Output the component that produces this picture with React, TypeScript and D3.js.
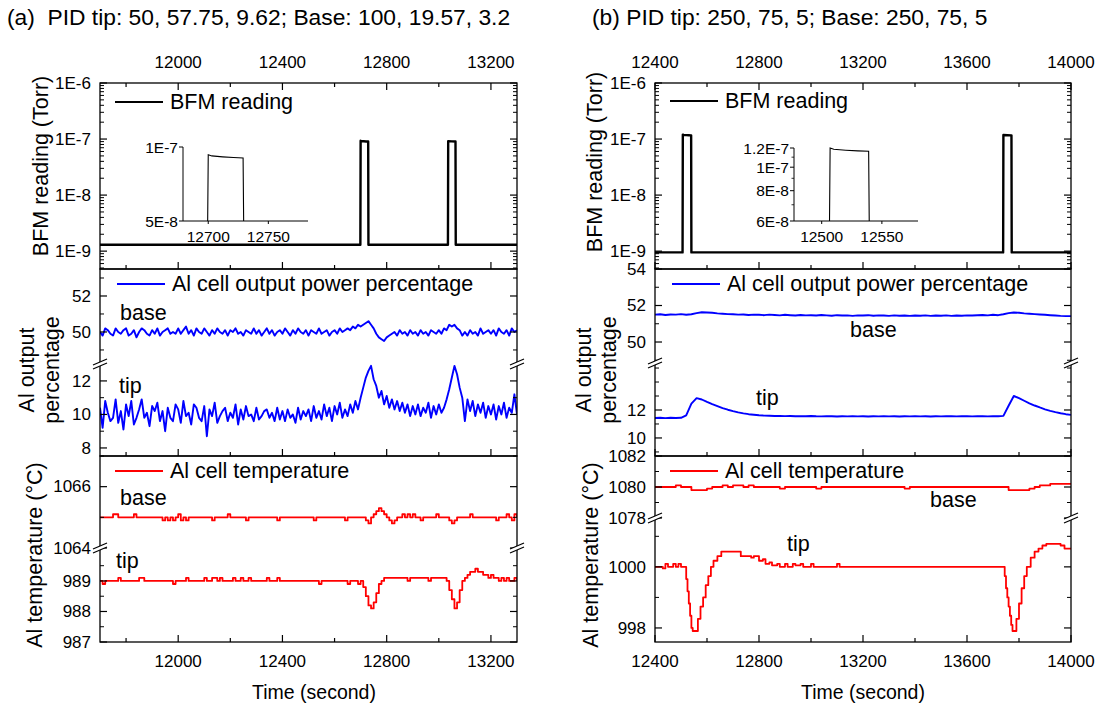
import React from "react";
import * as d3 from "d3";

const FONT = "'Liberation Sans', Arial, Helvetica, sans-serif";
const BLUE = "#0000ff";
const RED = "#ff0000";
const BLACK = "#000";

// ---------- sample times ----------
const timeA = d3.range(11700, 13300 + 1, 10);
const timeB = d3.range(12400, 14000 + 1, 20);

// ---------- (a) PID tip: 50, 57.75, 9.62; Base: 100, 19.57, 3.2 ----------
const bfmA: [number, number][] = [
  [11700, 1.3e-9], [12699, 1.3e-9], [12700, 9.3e-8], [12703, 9.2e-8], [12712, 9.12e-8],
  [12721, 9.06e-8], [12729, 9.02e-8], [12730, 1.3e-9], [13035, 1.3e-9], [13036, 9.2e-8],
  [13050, 9.08e-8], [13064, 9.02e-8], [13065, 1.3e-9], [13300, 1.3e-9],
];

const powerBaseA = [
  50.0, 49.8, 50.2, 50.1, 49.9, 49.8, 50.2, 50.0, 49.9, 50.1,
  50.2, 49.8, 49.9, 50.1, 49.7, 50.0, 50.2, 50.1, 49.9, 49.8,
  50.1, 49.9, 50.2, 49.8, 50.0, 50.1, 50.2, 49.9, 50.0, 49.9,
  50.2, 49.9, 50.1, 50.3, 49.9, 50.1, 49.8, 50.2, 50.0, 49.9,
  50.2, 50.0, 49.8, 50.1, 49.9, 50.2, 50.0, 49.9, 50.1, 49.8,
  50.1, 50.0, 50.2, 49.9, 50.0, 49.8, 50.1, 50.0, 49.9, 50.2,
  49.9, 50.1, 49.8, 50.0, 50.2, 49.9, 50.1, 49.8, 50.0, 50.1,
  49.9, 50.2, 50.0, 49.8, 50.1, 49.9, 50.2, 50.0, 49.9, 50.1,
  49.8, 50.1, 50.0, 49.9, 50.2, 49.9, 50.0, 50.1, 49.8, 50.0,
  50.1, 49.9, 50.2, 50.0, 50.1, 50.2, 50.1, 50.3, 50.2, 50.4,
  50.3, 50.4, 50.5, 50.6, 50.4, 50.2, 49.9, 49.7, 49.6, 49.5,
  49.7, 49.8, 49.9, 50.0, 49.8, 50.1, 49.9, 50.0, 49.8, 50.1,
  49.9, 50.0, 49.8, 50.1, 49.9, 50.0, 49.8, 50.1, 50.0, 49.9,
  50.1, 49.9, 50.2, 50.1, 50.4, 50.3, 50.4, 50.2, 50.1, 49.8,
  50.0, 49.8, 50.1, 49.9, 50.0, 49.8, 50.2, 49.9, 50.0, 50.1,
  49.9, 50.1, 49.8, 50.2, 50.0, 49.9, 50.1, 49.8, 50.2, 50.0,
  50.1,
];

const powerTipA = [
  10.4, 9.2, 10.8, 10.1, 9.6, 9.8, 10.9, 9.5, 10.2, 9.1,
  10.6, 9.9, 10.8, 9.4, 9.8, 10.3, 10.9, 9.8, 10.1, 9.3,
  10.5, 10.2, 10.7, 9.6, 10.2, 9.0, 10.4, 9.8, 9.6, 10.6,
  10.3, 9.5, 10.8, 9.9, 10.1, 9.4, 10.6, 10.4, 9.8, 9.6,
  10.5, 8.7, 10.3, 9.9, 10.7, 9.5, 9.9, 10.2, 10.4, 9.6,
  10.1, 9.8, 10.6, 9.4, 10.3, 9.7, 10.5, 9.9, 10.0, 9.6,
  10.4, 9.7, 9.9, 10.2, 10.3, 9.8, 10.1, 9.6, 10.4, 9.7,
  10.2, 9.6, 10.3, 9.8, 10.0, 9.5, 10.4, 9.7, 10.2, 9.9,
  10.3, 9.6, 10.5, 9.8, 10.2, 9.7, 10.6, 9.9, 10.4, 9.6,
  10.5, 10.0, 10.7, 9.8, 10.3, 9.9, 10.6, 10.1, 10.8, 10.3,
  11.0, 11.6, 12.2, 12.6, 12.9, 12.1, 11.7, 11.0, 11.4, 10.6,
  11.1, 10.4, 10.9, 10.3, 10.8, 10.2, 10.7, 10.1, 10.6, 9.9,
  10.5, 10.0, 10.6, 9.9, 10.4, 10.1, 10.7, 9.8, 10.5, 10.0,
  10.6, 10.1, 10.4, 10.9, 11.5, 12.2, 12.9, 12.4, 11.6, 11.0,
  9.6, 10.9, 10.2, 10.8, 9.9, 10.6, 10.1, 10.7, 9.8, 10.5,
  10.0, 10.6, 9.7, 10.5, 10.0, 10.7, 9.8, 10.4, 10.1, 11.2,
  10.0,
];

const tempBaseA = [
  1065.0, 1065.0, 1065.0, 1065.0, 1065.0, 1065.1, 1065.1, 1065.0, 1065.0, 1065.0,
  1065.0, 1065.0, 1065.0, 1065.1, 1065.0, 1065.0, 1065.0, 1065.0, 1065.0, 1065.0,
  1065.0, 1065.0, 1065.0, 1065.0, 1064.9, 1065.0, 1064.9, 1065.0, 1064.9, 1065.0,
  1065.1, 1064.9, 1065.0, 1064.9, 1065.0, 1065.0, 1065.0, 1065.0, 1065.0, 1065.0,
  1065.0, 1065.0, 1065.0, 1064.9, 1065.0, 1065.0, 1065.0, 1065.0, 1065.0, 1065.1,
  1065.0, 1065.0, 1065.0, 1065.0, 1065.0, 1065.0, 1064.9, 1065.0, 1065.0, 1065.0,
  1065.0, 1065.0, 1065.0, 1065.0, 1065.0, 1065.0, 1065.0, 1065.0, 1064.9, 1065.0,
  1065.0, 1065.0, 1065.0, 1065.0, 1065.0, 1065.0, 1065.0, 1065.0, 1065.0, 1065.0,
  1065.0, 1065.0, 1064.9, 1065.0, 1065.0, 1065.0, 1065.0, 1065.0, 1065.0, 1065.0,
  1065.0, 1065.0, 1065.0, 1065.0, 1064.9, 1065.0, 1065.0, 1065.0, 1065.0, 1065.0,
  1065.0, 1065.0, 1064.9, 1064.8, 1065.0, 1065.1, 1065.2, 1065.3, 1065.2, 1065.1,
  1065.0, 1064.9, 1064.8, 1064.9, 1065.0, 1065.0, 1065.1, 1065.0, 1065.1, 1065.0,
  1065.1, 1065.0, 1065.0, 1064.9, 1065.0, 1065.0, 1065.0, 1065.0, 1065.0, 1065.1,
  1065.0, 1065.0, 1065.0, 1065.0, 1064.9, 1064.8, 1064.9, 1065.0, 1065.0, 1065.0,
  1065.0, 1065.0, 1065.1, 1065.0, 1065.0, 1065.0, 1065.0, 1065.0, 1065.0, 1065.0,
  1065.0, 1065.0, 1064.9, 1065.0, 1065.0, 1065.0, 1065.1, 1065.0, 1064.9, 1065.1,
  1065.0,
];

const tempTipA = [
  989.0, 988.9, 989.0, 989.0, 989.0, 989.0, 989.0, 989.1, 989.0, 989.0,
  989.0, 989.0, 989.0, 989.0, 989.0, 989.1, 989.1, 989.0, 989.0, 989.0,
  989.0, 989.0, 989.0, 989.0, 989.0, 989.0, 989.0, 989.0, 988.9, 989.0,
  989.0, 989.0, 989.0, 989.1, 989.0, 989.0, 989.0, 989.0, 989.0, 989.0,
  989.1, 989.0, 989.0, 989.1, 989.1, 989.0, 989.1, 989.0, 989.0, 989.0,
  989.0, 989.1, 989.0, 989.0, 989.1, 989.0, 989.0, 989.1, 989.0, 989.0,
  989.0, 989.0, 989.0, 989.0, 989.1, 989.0, 989.0, 989.0, 989.1, 989.0,
  989.0, 989.0, 989.0, 989.0, 989.0, 989.0, 989.0, 989.0, 989.0, 989.0,
  989.0, 989.0, 989.0, 989.0, 988.9, 989.0, 989.0, 989.0, 989.0, 989.0,
  989.0, 989.0, 989.0, 989.0, 989.0, 988.9, 989.0, 989.0, 989.0, 988.9,
  989.0, 988.8, 988.5, 988.2, 988.1, 988.3, 988.6, 988.9, 989.0, 989.1,
  989.1, 989.1, 989.1, 989.1, 989.1, 989.1, 989.1, 989.1, 989.0, 989.1,
  989.1, 989.1, 989.1, 989.1, 989.1, 989.1, 989.0, 989.1, 989.1, 989.1,
  989.1, 989.1, 989.1, 989.0, 988.7, 988.4, 988.1, 988.3, 988.7, 989.0,
  989.1, 989.2, 989.3, 989.3, 989.4, 989.3, 989.3, 989.2, 989.2, 989.1,
  989.2, 989.1, 989.1, 989.0, 989.1, 989.0, 989.1, 989.0, 989.0, 989.1,
  989.0,
];

// ---------- (b) PID tip: 250, 75, 5; Base: 250, 75, 5 ----------
const bfmB: [number, number][] = [
  [12400, 9.5e-10], [12506, 9.5e-10], [12507, 1.2e-7], [12510, 1.185e-7], [12520, 1.175e-7],
  [12530, 1.168e-7], [12539, 1.163e-7], [12540, 9.5e-10], [13739, 9.5e-10], [13740, 1.18e-7],
  [13755, 1.17e-7], [13771, 1.163e-7], [13772, 9.5e-10], [14000, 9.5e-10],
];

const powerBaseB = [
  51.50, 51.52, 51.48, 51.51, 51.50, 51.53, 51.49, 51.52, 51.58, 51.63,
  51.62, 51.60, 51.57, 51.55, 51.53, 51.52, 51.50, 51.51, 51.48, 51.50,
  51.49, 51.47, 51.50, 51.48, 51.46, 51.49, 51.47, 51.45, 51.48, 51.46,
  51.47, 51.45, 51.48, 51.46, 51.44, 51.47, 51.45, 51.46, 51.43, 51.46,
  51.45, 51.47, 51.44, 51.46, 51.45, 51.43, 51.46, 51.44, 51.45, 51.43,
  51.45, 51.44, 51.46, 51.43, 51.45, 51.44, 51.46, 51.43, 51.45, 51.44,
  51.46, 51.45, 51.47, 51.48, 51.46, 51.49, 51.47, 51.52, 51.58, 51.62,
  51.60, 51.57, 51.55, 51.53, 51.51, 51.49, 51.47, 51.45, 51.43, 51.42,
  51.42,
];

const powerTipB = [
  11.43, 11.45, 11.42, 11.44, 11.43, 11.44, 11.62, 12.45, 12.85, 12.75,
  12.58, 12.42, 12.28, 12.14, 12.02, 11.92, 11.83, 11.76, 11.70, 11.66,
  11.62, 11.60, 11.59, 11.57, 11.58, 11.56, 11.57, 11.55, 11.56, 11.55,
  11.57, 11.55, 11.54, 11.56, 11.55, 11.53, 11.55, 11.54, 11.56, 11.54,
  11.55, 11.53, 11.55, 11.54, 11.56, 11.54, 11.55, 11.53, 11.55, 11.54,
  11.56, 11.54, 11.55, 11.53, 11.55, 11.54, 11.56, 11.55, 11.54, 11.56,
  11.55, 11.54, 11.56, 11.55, 11.54, 11.56, 11.55, 11.58, 12.30, 13.00,
  12.85, 12.66, 12.48, 12.32, 12.18, 12.05, 11.94, 11.85, 11.77, 11.70,
  11.65,
];

const tempBaseB = [
  1080.0, 1080.0, 1080.0, 1080.0, 1080.1, 1080.0, 1080.0, 1079.8, 1079.8, 1079.8,
  1079.9, 1080.0, 1080.0, 1080.1, 1080.0, 1080.1, 1080.1, 1080.0, 1080.1, 1080.0,
  1080.0, 1080.0, 1080.0, 1080.0, 1079.9, 1080.0, 1080.0, 1080.0, 1080.0, 1080.0,
  1080.0, 1079.9, 1080.0, 1080.0, 1080.0, 1080.0, 1080.0, 1080.0, 1080.0, 1080.0,
  1080.0, 1080.0, 1080.0, 1080.0, 1080.0, 1080.0, 1080.0, 1080.0, 1079.9, 1080.0,
  1080.0, 1080.0, 1080.0, 1080.0, 1080.0, 1080.0, 1080.0, 1080.0, 1080.0, 1080.0,
  1080.0, 1080.0, 1080.0, 1080.0, 1080.0, 1080.0, 1080.0, 1080.0, 1079.8, 1079.8,
  1079.8, 1079.8, 1079.9, 1080.0, 1080.1, 1080.1, 1080.2, 1080.2, 1080.2, 1080.2,
  1080.2,
];

// logged readings [time, °C], recorded on change
const tempTipB: [number, number][] = [
  [12400, 1000.0], [12420, 1000.0], [12430, 999.95], [12440, 1000.1], [12450, 1000.0],
  [12470, 1000.1], [12480, 1000.0], [12490, 1000.1], [12500, 1000.0], [12515, 1000.0],
  [12520, 999.6], [12525, 999.2], [12530, 998.8], [12535, 998.4], [12540, 998.0],
  [12545, 997.9], [12565, 998.3], [12575, 998.7], [12585, 999.0], [12595, 999.4],
  [12605, 999.7], [12615, 1000.0], [12625, 1000.2], [12640, 1000.35], [12655, 1000.5],
  [12730, 1000.35], [12770, 1000.3], [12780, 1000.35], [12800, 1000.2], [12815, 1000.25],
  [12825, 1000.1], [12840, 1000.15], [12850, 1000.05], [12870, 1000.1], [12880, 1000.0],
  [12900, 1000.1], [12910, 1000.0], [12930, 1000.1], [12940, 1000.05], [12960, 1000.1],
  [12970, 1000.0], [13000, 1000.1], [13010, 1000.0], [13100, 1000.1], [13110, 1000.0],
  [13740, 1000.0], [13745, 999.7], [13750, 999.3], [13755, 999.0], [13760, 998.7],
  [13765, 998.4], [13770, 998.1], [13775, 997.9], [13790, 998.3], [13800, 998.8],
  [13810, 999.3], [13820, 999.7], [13830, 1000.0], [13845, 1000.3], [13860, 1000.5],
  [13875, 1000.6], [13890, 1000.7], [13905, 1000.75], [13960, 1000.7], [13975, 1000.6],
  [14000, 1000.6],
];

// ---------- axis labels ----------
const xMajorA = [12000, 12400, 12800, 13200];
const xMinorA = [11800, 12200, 12600, 13000];
const xMajorB = [12400, 12800, 13200, 13600, 14000];
const xMinorB = [12600, 13000, 13400, 13800];

const pair = (t: number[], v: number[]): [number, number][] =>
  v.map((vi, i) => [t[i], vi] as [number, number]);

type Tick = { v: number; label?: string };
type Seg = {
  top: number;
  bottom: number;
  domain: [number, number];
  log?: boolean;
  major: Tick[];
  minor: number[];
};
type Series = { seg: number; data: [number, number][]; color: string; width: number; step?: boolean };

const ROW_TOP = [83, 269];
const ROW_MID = [269, 456];
const ROW_BOT = [456, 642];

const TICK_FS = 17;
const TEXT_FS = 21.5;

function logMinor(lo: number, hi: number): number[] {
  const out: number[] = [];
  for (let e = -11; e <= -5; e++) {
    for (let k = 2; k <= 9; k++) {
      const v = k * Math.pow(10, e);
      if (v >= lo && v <= hi) out.push(v);
    }
  }
  return out;
}

function BreakMark({ x, y }: { x: number; y: number }) {
  return (
    <g>
      <polygon points={`${x - 7},${y + 5} ${x + 7},${y - 1} ${x + 7},${y - 5} ${x - 7},${y + 1}`} fill="#fff" />
      <line x1={x - 7} y1={y + 5} x2={x + 7} y2={y - 1} stroke={BLACK} strokeWidth={1.2} />
      <line x1={x - 7} y1={y + 1} x2={x + 7} y2={y - 5} stroke={BLACK} strokeWidth={1.2} />
    </g>
  );
}

function Subplot(props: {
  id: string;
  x0: number;
  x1: number;
  xDomain: [number, number];
  top: number;
  bottom: number;
  xMajor: number[];
  xMinor: number[];
  topLabels?: boolean;
  bottomLabels?: boolean;
  segs: Seg[];
  series: Series[];
  legend: { text: string; color: string; x: number; y: number };
  notes?: { text: string; x: number; y: number }[];
}) {
  const { id, x0, x1, xDomain, top, bottom, segs, series, legend } = props;
  const xs = d3.scaleLinear().domain(xDomain).range([x0, x1]);
  const ys = segs.map((s) =>
    (s.log ? d3.scaleLog() : d3.scaleLinear()).domain(s.domain).range([s.bottom, s.top])
  );
  const MAJ = 7;
  const MIN = 4;
  return (
    <g>
      <defs>
        {segs.map((s, i) => (
          <clipPath id={`${id}-clip-${i}`} key={i}>
            <rect x={x0} y={s.top} width={x1 - x0} height={s.bottom - s.top} />
          </clipPath>
        ))}
      </defs>
      {series.map((s, i) => {
        const y = ys[s.seg];
        const line = d3
          .line<[number, number]>()
          .x((d) => xs(d[0]))
          .y((d) => y(d[1]))
          .curve(s.step ? d3.curveStepAfter : d3.curveLinear);
        return (
          <path
            key={i}
            d={line(s.data) || ""}
            fill="none"
            stroke={s.color}
            strokeWidth={s.width}
            strokeLinejoin="round"
            clipPath={`url(#${id}-clip-${s.seg})`}
          />
        );
      })}
      {/* frame */}
      <rect x={x0} y={top} width={x1 - x0} height={bottom - top} fill="none" stroke={BLACK} strokeWidth={1.3} />
      {/* x ticks */}
      {props.xMajor.map((v) => (
        <line key={`xb${v}`} x1={xs(v)} x2={xs(v)} y1={bottom} y2={bottom - MAJ} stroke={BLACK} strokeWidth={1.2} />
      ))}
      {props.xMinor.map((v) => (
        <line key={`xbm${v}`} x1={xs(v)} x2={xs(v)} y1={bottom} y2={bottom - MIN} stroke={BLACK} strokeWidth={1.2} />
      ))}
      {props.topLabels &&
        props.xMajor.map((v) => (
          <g key={`xt${v}`}>
            <line x1={xs(v)} x2={xs(v)} y1={top} y2={top + MAJ} stroke={BLACK} strokeWidth={1.2} />
            <text x={xs(v)} y={top - 15} textAnchor="middle" fontSize={TICK_FS}>
              {v}
            </text>
          </g>
        ))}
      {props.topLabels &&
        props.xMinor.map((v) => (
          <line key={`xtm${v}`} x1={xs(v)} x2={xs(v)} y1={top} y2={top + MIN} stroke={BLACK} strokeWidth={1.2} />
        ))}
      {props.bottomLabels &&
        props.xMajor.map((v) => (
          <text key={`xl${v}`} x={xs(v)} y={bottom + 25} textAnchor="middle" fontSize={TICK_FS}>
            {v}
          </text>
        ))}
      {/* y ticks, both sides */}
      {segs.map((s, i) => (
        <g key={`ys${i}`}>
          {s.major.map((t) => {
            const yy = ys[i](t.v);
            return (
              <g key={`ym${t.v}`}>
                <line x1={x0} x2={x0 + MAJ} y1={yy} y2={yy} stroke={BLACK} strokeWidth={1.2} />
                <line x1={x1} x2={x1 - MAJ} y1={yy} y2={yy} stroke={BLACK} strokeWidth={1.2} />
                {t.label && (
                  <text x={x0 - 9} y={yy} dy="0.34em" textAnchor="end" fontSize={TICK_FS}>
                    {t.label}
                  </text>
                )}
              </g>
            );
          })}
          {s.minor.map((v) => {
            const yy = ys[i](v);
            return (
              <g key={`yn${v}`}>
                <line x1={x0} x2={x0 + MIN} y1={yy} y2={yy} stroke={BLACK} strokeWidth={1} />
                <line x1={x1} x2={x1 - MIN} y1={yy} y2={yy} stroke={BLACK} strokeWidth={1} />
              </g>
            );
          })}
        </g>
      ))}
      {/* axis breaks */}
      {segs.slice(0, -1).map((s, i) => (
        <g key={`br${i}`}>
          <BreakMark x={x0} y={s.bottom} />
          <BreakMark x={x1} y={s.bottom} />
        </g>
      ))}
      {/* legend */}
      <line x1={legend.x} x2={legend.x + 48} y1={legend.y} y2={legend.y} stroke={legend.color} strokeWidth={2} />
      <text x={legend.x + 55} y={legend.y + 7} fontSize={TEXT_FS}>
        {legend.text}
      </text>
      {(props.notes || []).map((n, i) => (
        <text key={`n${i}`} x={n.x} y={n.y} fontSize={TEXT_FS}>
          {n.text}
        </text>
      ))}
    </g>
  );
}

function Inset(props: {
  id: string;
  x0: number;
  x1: number;
  top: number;
  bottom: number;
  xDomain: [number, number];
  yDomain: [number, number];
  data: [number, number][];
  xTicks: number[];
  yTicks: Tick[];
  yMinor: number[];
}) {
  const { id, x0, x1, top, bottom } = props;
  const xs = d3.scaleLinear().domain(props.xDomain).range([x0, x1]);
  const ys = d3.scaleLog().domain(props.yDomain).range([bottom, top]);
  const line = d3
    .line<[number, number]>()
    .x((d) => xs(d[0]))
    .y((d) => ys(Math.max(d[1], props.yDomain[0] * 0.5)));
  return (
    <g>
      <defs>
        <clipPath id={`${id}-clip`}>
          <rect x={x0} y={top - 6} width={x1 - x0} height={bottom - top + 6} />
        </clipPath>
      </defs>
      <path d={line(props.data) || ""} fill="none" stroke={BLACK} strokeWidth={1.1} clipPath={`url(#${id}-clip)`} />
      <line x1={x0} x2={x0} y1={top} y2={bottom} stroke={BLACK} strokeWidth={1} />
      <line x1={x0} x2={x1} y1={bottom} y2={bottom} stroke={BLACK} strokeWidth={1} />
      {props.yTicks.map((t) => (
        <g key={t.v}>
          <line x1={x0} x2={x0 - 4} y1={ys(t.v)} y2={ys(t.v)} stroke={BLACK} strokeWidth={1} />
          <text x={x0 - 5} y={ys(t.v)} dy="0.36em" textAnchor="end" fontSize={15.5}>
            {t.label}
          </text>
        </g>
      ))}
      {props.yMinor.map((v) => (
        <line key={v} x1={x0} x2={x0 - 2.5} y1={ys(v)} y2={ys(v)} stroke={BLACK} strokeWidth={0.8} />
      ))}
      {props.xTicks.map((v) => (
        <g key={v}>
          <line x1={xs(v)} x2={xs(v)} y1={bottom} y2={bottom + 3} stroke={BLACK} strokeWidth={1} />
          <text x={xs(v)} y={bottom + 21} textAnchor="middle" fontSize={15.5}>
            {v}
          </text>
        </g>
      ))}
    </g>
  );
}

const decadeTicks: Tick[] = [-9, -8, -7, -6].map((e) => ({ v: Math.pow(10, e), label: `1E${e}` }));

function topSeg(domain: [number, number]): Seg {
  return {
    top: ROW_TOP[0],
    bottom: ROW_TOP[1],
    domain,
    log: true,
    major: decadeTicks,
    minor: logMinor(domain[0], domain[1]),
  };
}

const ticks = (vals: number[], labelled = true): Tick[] =>
  vals.map((v) => ({ v, label: labelled ? String(v) : undefined }));

export default function App() {
  const A = { x0: 100, x1: 517, dom: [11700, 13300] as [number, number] };
  const B = { x0: 655, x1: 1071, dom: [12400, 14000] as [number, number] };
  const bfmDomain: [number, number] = [4.8e-10, 1e-6];

  return (
    <svg
      width={1104}
      height={707}
      viewBox="0 0 1104 707"
      style={{ position: "absolute", left: 0, top: 0, background: "#fff" }}
      fontFamily={FONT}
    >
      <rect width={1104} height={707} fill="#fff" />

      {/* panel titles */}
      <text x={7} y={25} fontSize={22.8} xmlSpace="preserve">
        (a)  PID tip: 50, 57.75, 9.62; Base: 100, 19.57, 3.2
      </text>
      <text x={592} y={25} fontSize={22.8}>
        (b) PID tip: 250, 75, 5; Base: 250, 75, 5
      </text>

      {/* ---------------- panel (a) ---------------- */}
      <Subplot
        id="a1"
        x0={A.x0}
        x1={A.x1}
        xDomain={A.dom}
        top={ROW_TOP[0]}
        bottom={ROW_TOP[1]}
        xMajor={xMajorA}
        xMinor={xMinorA}
        topLabels
        segs={[topSeg(bfmDomain)]}
        series={[{ seg: 0, data: bfmA, color: BLACK, width: 2.4 }]}
        legend={{ text: "BFM reading", color: BLACK, x: 115, y: 102 }}
      />
      <Inset
        id="ia"
        x0={183}
        x1={308}
        top={147}
        bottom={221}
        xDomain={[12679, 12783]}
        yDomain={[5e-8, 1e-7]}
        data={bfmA}
        xTicks={[12700, 12750]}
        yTicks={[
          { v: 5e-8, label: "5E-8" },
          { v: 1e-7, label: "1E-7" },
        ]}
        yMinor={[]}
      />
      <Subplot
        id="a2"
        x0={A.x0}
        x1={A.x1}
        xDomain={A.dom}
        top={ROW_MID[0]}
        bottom={ROW_MID[1]}
        xMajor={xMajorA}
        xMinor={xMinorA}
        segs={[
          { top: 269, bottom: 364, domain: [48.22, 53.5], major: ticks([50, 52]), minor: [49, 51, 53] },
          { top: 364, bottom: 456, domain: [7.52, 13.01], major: ticks([8, 10, 12]), minor: [9, 11] },
        ]}
        series={[
          { seg: 0, data: pair(timeA, powerBaseA), color: BLUE, width: 1.9 },
          { seg: 1, data: pair(timeA, powerTipA), color: BLUE, width: 1.9 },
        ]}
        legend={{ text: "Al cell output power percentage", color: BLUE, x: 117, y: 284 }}
        notes={[
          { text: "base", x: 120, y: 320 },
          { text: "tip", x: 119, y: 393 },
        ]}
      />
      <Subplot
        id="a3"
        x0={A.x0}
        x1={A.x1}
        xDomain={A.dom}
        top={ROW_BOT[0]}
        bottom={ROW_BOT[1]}
        xMajor={xMajorA}
        xMinor={xMinorA}
        bottomLabels
        segs={[
          { top: 456, bottom: 548, domain: [1064, 1067], major: ticks([1064, 1066]), minor: [1065, 1067] },
          { top: 548, bottom: 642, domain: [987, 990.08], major: ticks([987, 988, 989]), minor: [987.5, 988.5, 989.5] },
        ]}
        series={[
          { seg: 0, data: pair(timeA, tempBaseA), color: RED, width: 1.8, step: true },
          { seg: 1, data: pair(timeA, tempTipA), color: RED, width: 1.8, step: true },
        ]}
        legend={{ text: "Al cell temperature", color: RED, x: 115, y: 471 }}
        notes={[
          { text: "base", x: 120, y: 505 },
          { text: "tip", x: 116, y: 568 },
        ]}
      />

      {/* ---------------- panel (b) ---------------- */}
      <Subplot
        id="b1"
        x0={B.x0}
        x1={B.x1}
        xDomain={B.dom}
        top={ROW_TOP[0]}
        bottom={ROW_TOP[1]}
        xMajor={xMajorB}
        xMinor={xMinorB}
        topLabels
        segs={[topSeg(bfmDomain)]}
        series={[{ seg: 0, data: bfmB, color: BLACK, width: 2.4 }]}
        legend={{ text: "BFM reading", color: BLACK, x: 670, y: 101 }}
      />
      <Inset
        id="ib"
        x0={794}
        x1={918}
        top={148}
        bottom={221}
        xDomain={[12477, 12580]}
        yDomain={[6e-8, 1.2e-7]}
        data={bfmB}
        xTicks={[12500, 12550]}
        yTicks={[
          { v: 6e-8, label: "6E-8" },
          { v: 8e-8, label: "8E-8" },
          { v: 1e-7, label: "1E-7" },
          { v: 1.2e-7, label: "1.2E-7" },
        ]}
        yMinor={[7e-8, 9e-8, 1.1e-7]}
      />
      <Subplot
        id="b2"
        x0={B.x0}
        x1={B.x1}
        xDomain={B.dom}
        top={ROW_MID[0]}
        bottom={ROW_MID[1]}
        xMajor={xMajorB}
        xMinor={xMinorB}
        segs={[
          { top: 269, bottom: 363, domain: [48.85, 54], major: ticks([50, 52, 54]), minor: [49, 51, 53] },
          { top: 363, bottom: 456, domain: [8.71, 15.36], major: ticks([10, 12]), minor: [9, 11, 13, 14, 15] },
        ]}
        series={[
          { seg: 0, data: pair(timeB, powerBaseB), color: BLUE, width: 1.9 },
          { seg: 1, data: pair(timeB, powerTipB), color: BLUE, width: 1.9 },
        ]}
        legend={{ text: "Al cell output power percentage", color: BLUE, x: 672, y: 284 }}
        notes={[
          { text: "base", x: 850, y: 337 },
          { text: "tip", x: 756, y: 405 },
        ]}
      />
      <Subplot
        id="b3"
        x0={B.x0}
        x1={B.x1}
        xDomain={B.dom}
        top={ROW_BOT[0]}
        bottom={ROW_BOT[1]}
        xMajor={xMajorB}
        xMinor={xMinorB}
        bottomLabels
        segs={[
          { top: 456, bottom: 518, domain: [1078, 1082], major: ticks([1078, 1080, 1082]), minor: [1079, 1081] },
          { top: 518, bottom: 642, domain: [997.54, 1001.6], major: ticks([998, 1000]), minor: [999, 1001] },
        ]}
        series={[
          { seg: 0, data: pair(timeB, tempBaseB), color: RED, width: 1.8, step: true },
          { seg: 1, data: tempTipB, color: RED, width: 1.8, step: true },
        ]}
        legend={{ text: "Al cell temperature", color: RED, x: 670, y: 471 }}
        notes={[
          { text: "base", x: 930, y: 507 },
          { text: "tip", x: 787, y: 551 },
        ]}
      />

      {/* y-axis titles */}
      <text transform="translate(48,166) rotate(-90)" textAnchor="middle" fontSize={TEXT_FS}>
        BFM reading (Torr)
      </text>
      <text transform="translate(34,370) rotate(-90)" textAnchor="middle" fontSize={TEXT_FS}>
        Al output
      </text>
      <text transform="translate(59,370) rotate(-90)" textAnchor="middle" fontSize={TEXT_FS}>
        percentage
      </text>
      <text transform="translate(42,555) rotate(-90)" textAnchor="middle" fontSize={TEXT_FS}>
        Al temperature (°C)
      </text>

      <text transform="translate(602,162) rotate(-90)" textAnchor="middle" fontSize={TEXT_FS}>
        BFM reading (Torr)
      </text>
      <text transform="translate(591,370) rotate(-90)" textAnchor="middle" fontSize={TEXT_FS}>
        Al output
      </text>
      <text transform="translate(616,370) rotate(-90)" textAnchor="middle" fontSize={TEXT_FS}>
        percentage
      </text>
      <text transform="translate(598,555) rotate(-90)" textAnchor="middle" fontSize={TEXT_FS}>
        Al temperature (°C)
      </text>

      {/* x-axis titles */}
      <text x={314} y={699} textAnchor="middle" fontSize={19.5}>
        Time (second)
      </text>
      <text x={863} y={699} textAnchor="middle" fontSize={19.5}>
        Time (second)
      </text>
    </svg>
  );
}
